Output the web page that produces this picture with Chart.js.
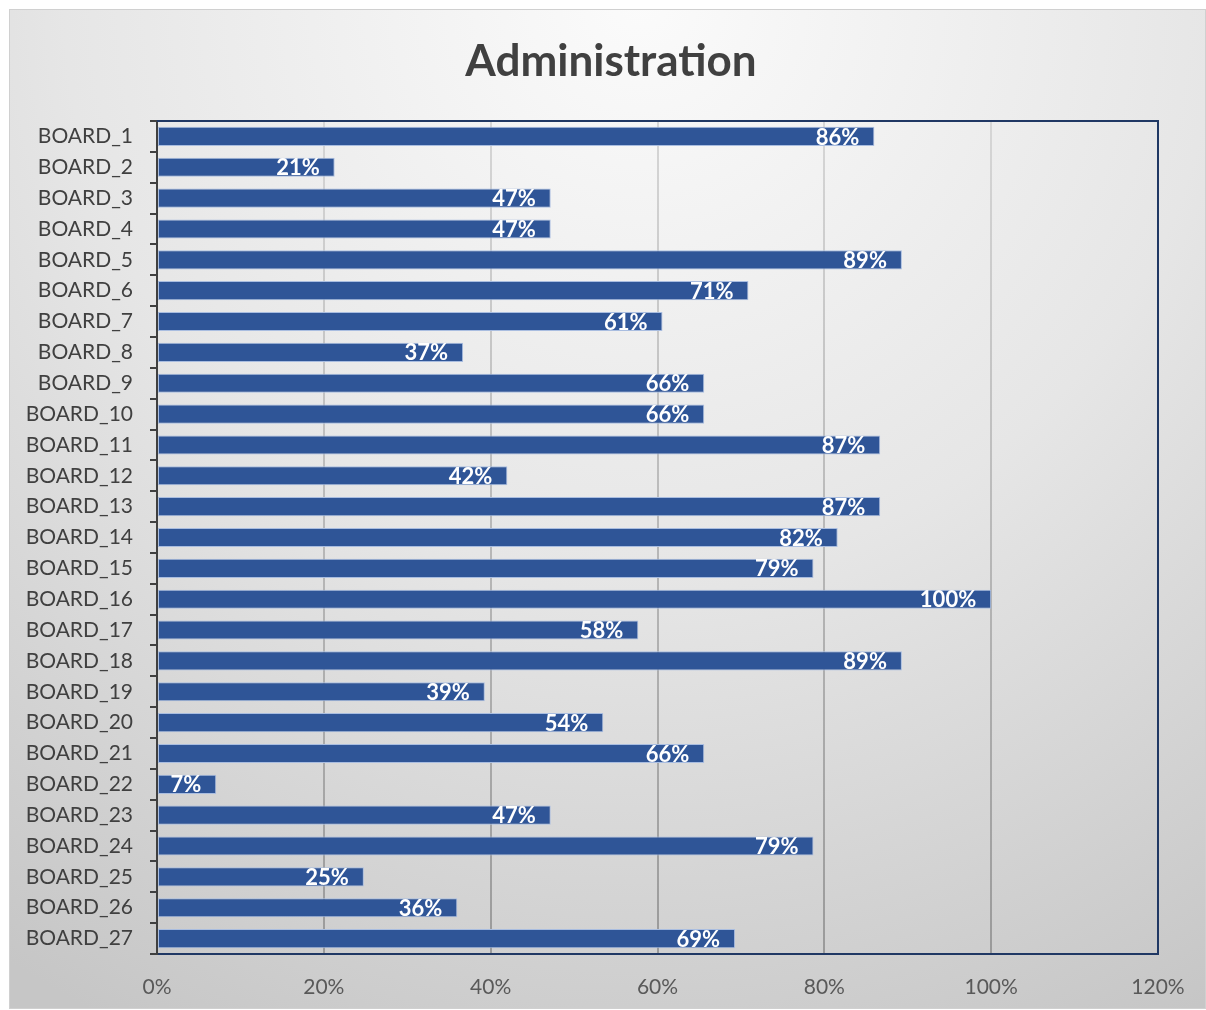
<!DOCTYPE html>
<html>
<head>
<meta charset="utf-8">
<script src="https://cdn.jsdelivr.net/npm/chart.js@4"></script>
<style>
  html, body { margin: 0; padding: 0; background: #ffffff; }
  #wrap { width: 1206px; height: 1010px; }
</style>
</head>
<body>
<div id="wrap"><canvas id="adminChart" width="1206" height="1010"></canvas></div>
<script>
// chart data
const chartTitle = 'Administration';
const boards = [
  'BOARD_1', 'BOARD_2', 'BOARD_3', 'BOARD_4', 'BOARD_5', 'BOARD_6', 'BOARD_7',
  'BOARD_8', 'BOARD_9', 'BOARD_10', 'BOARD_11', 'BOARD_12', 'BOARD_13', 'BOARD_14',
  'BOARD_15', 'BOARD_16', 'BOARD_17', 'BOARD_18', 'BOARD_19', 'BOARD_20', 'BOARD_21',
  'BOARD_22', 'BOARD_23', 'BOARD_24', 'BOARD_25', 'BOARD_26', 'BOARD_27'
];
const scores = [
  86, 21.3, 47.2, 47.2, 89.3, 70.9, 60.6,
  36.7, 65.6, 65.6, 86.7, 42, 86.7, 81.6,
  78.7, 100, 57.7, 89.3, 39.3, 53.5, 65.6,
  7.1, 47.2, 78.7, 24.8, 36, 69.3
];
const xTicks = [0, 20, 40, 60, 80, 100, 120];

const FONT = 'Lato, "Open Sans", sans-serif';

// background, outer frame, title and plot frame
const framePlugin = {
  id: 'frame',
  beforeDraw(chart) {
    const ctx = chart.ctx;
    ctx.save();
    ctx.fillStyle = '#ffffff';
    ctx.fillRect(0, 0, chart.width, chart.height);
    const g = ctx.createRadialGradient(640, 0, 0, 640, 0, 1150);
    g.addColorStop(0, '#fbfbfb');
    g.addColorStop(0.5, '#e6e6e6');
    g.addColorStop(1, '#c6c6c6');
    ctx.fillStyle = g;
    ctx.fillRect(9, 9, 1196, 999);
    ctx.strokeStyle = '#d0d0d0';
    ctx.lineWidth = 1;
    ctx.strokeRect(9.5, 9.5, 1196, 999);

    // title sits over the middle of the whole chart box
    ctx.fillStyle = '#404040';
    ctx.font = 'bold 44px ' + FONT;
    ctx.textAlign = 'center';
    ctx.textBaseline = 'middle';
    ctx.fillText(chartTitle, 611, 62);
    ctx.restore();
  },
  beforeDatasetsDraw(chart) {
    const a = chart.chartArea;
    const ctx = chart.ctx;
    ctx.save();
    ctx.strokeStyle = '#203864';
    ctx.lineWidth = 2;
    ctx.beginPath();
    ctx.moveTo(a.left, a.top);
    ctx.lineTo(a.right, a.top);
    ctx.lineTo(a.right, a.bottom);
    ctx.stroke();
    ctx.restore();
  }
};

// value labels inside the end of each bar
const barLabels = {
  id: 'barLabels',
  afterDatasetsDraw(chart) {
    const ctx = chart.ctx;
    const meta = chart.getDatasetMeta(0);
    ctx.save();
    ctx.fillStyle = '#ffffff';
    ctx.font = 'bold 22px ' + FONT;
    ctx.textAlign = 'right';
    ctx.textBaseline = 'middle';
    meta.data.forEach((bar, i) => {
      ctx.fillText(Math.round(scores[i]) + '%', bar.x - 15, bar.y + 1);
    });
    ctx.restore();
  }
};

function gridColor(context) {
  const chart = context.chart;
  const a = chart.chartArea;
  if (!a) return '#bfbfbf';
  const g = chart.ctx.createLinearGradient(0, a.top, 0, a.bottom);
  g.addColorStop(0, '#d6d6d6');
  g.addColorStop(1, '#9a9a9a');
  return g;
}

new Chart(document.getElementById('adminChart'), {
  type: 'bar',
  data: {
    labels: boards,
    datasets: [{
      data: scores,
      backgroundColor: '#2f5597',
      borderColor: '#a9bde0',
      borderWidth: 1,
      borderSkipped: false,
      barPercentage: 0.62,
      categoryPercentage: 1
    }]
  },
  options: {
    indexAxis: 'y',
    responsive: false,
    animation: false,
    layout: { padding: { top: 121, right: 48, bottom: 0, left: 0 } },
    plugins: {
      legend: { display: false },
      tooltip: { enabled: false },
      title: { display: false }
    },
    scales: {
      x: {
        min: 0,
        max: 120,
        afterBuildTicks(scale) {
          scale.ticks = xTicks.map(v => ({ value: v }));
        },
        afterFit(scale) { scale.height = 56; },
        ticks: {
          color: '#595959',
          font: { family: FONT, size: 21 },
          padding: 21,
          callback: v => v + '%'
        },
        grid: {
          color: gridColor,
          lineWidth: 2,
          drawTicks: false
        },
        border: { color: '#203864', width: 2 }
      },
      y: {
        afterFit(scale) { scale.width = 157; },
        ticks: {
          color: '#404040',
          font: { family: FONT, size: 21 },
          padding: 17,
          autoSkip: false
        },
        grid: {
          offset: true,
          drawOnChartArea: false,
          drawTicks: true,
          tickLength: 7,
          color: '#404040',
          lineWidth: 2
        },
        border: { color: '#404040', width: 2 }
      }
    }
  },
  plugins: [framePlugin, barLabels]
});
</script>
</body>
</html>
